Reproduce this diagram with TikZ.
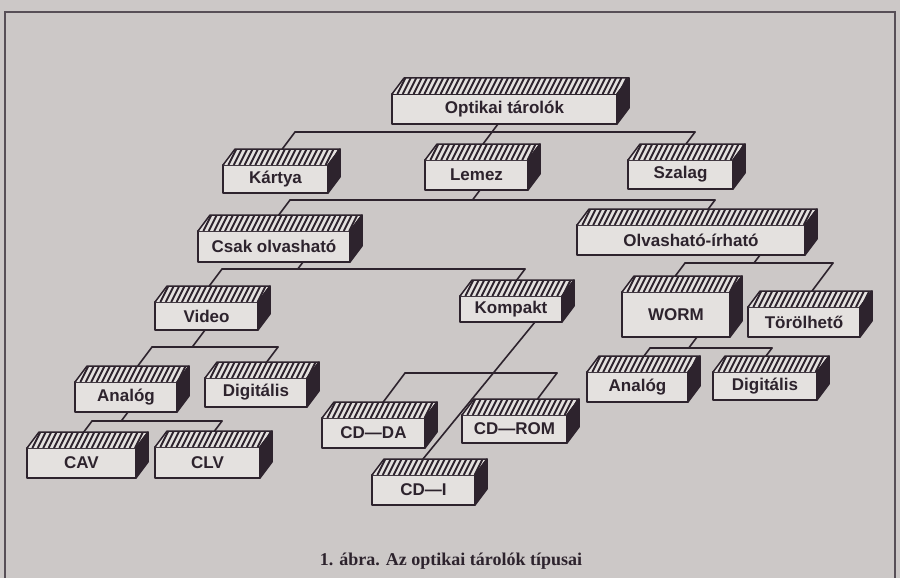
\documentclass[tikz,border=0pt]{standalone}
\usepackage{fontspec}
\usepackage{xcolor}
\usepackage{tikz}
\usetikzlibrary{calc}
\newfontfamily\dobozbetu{Liberation Sans}
\newfontfamily\cimbetu{Liberation Serif}

\definecolor{papir}{RGB}{204,200,199}
\definecolor{lap}{RGB}{228,225,223}
\definecolor{tinta}{RGB}{45,35,45}

% Mélység (ferde eltolás)
\def\mx{12} \def\my{-16}

\tikzset{
	el/.style={draw=tinta,line width=1.5pt,line join=round},
	elso/.style={el,fill=lap,inner sep=0pt,outer sep=0pt,text=tinta,
		font=\dobozbetu\bfseries\fontsize{17}{19}\selectfont},
	teto/.style={fill=lap},
	csik/.style={draw=tinta,line width=1.9pt},
	oldal/.style={el,fill=tinta},
	kapocs/.style={draw=tinta,line width=1.6pt,line cap=round},
	keret/.style={draw=tinta!80,line width=1.2pt},
	felirat/.style={text=tinta,font=\cimbetu\bfseries\fontsize{18}{20}\selectfont}
}

% Doboz: név, x1, y1, x2, y2, szöveg
\newcommand{\doboz}[6]{%
	\node[elso,minimum width={(#4-#2)*1pt},minimum height={(#5-#3)*1pt}]
	(#1) at ({(#2+#4)/2},{(#3+#5)/2}) {#6};
	\coordinate (#1-h) at ($(#1.north west)+(\mx,\my)$);
	\coordinate (#1-j) at ($(#1.north east)+(\mx,\my)$);
	% teteje
	\fill[teto] (#1.north west) -- (#1-h) -- (#1-j) -- (#1.north east) -- cycle;
	\begin{scope}
		\clip (#1.north west) -- (#1-h) -- (#1-j) -- (#1.north east) -- cycle;
		\foreach \k in {-3,...,45}
		\draw[csik] ({#2+5.4*\k},#3) -- ++(8,-16);
	\end{scope}
	\draw[el] (#1.north west) -- (#1-h) -- (#1-j) -- (#1.north east);
	% oldala
	\filldraw[oldal] (#1.north east) -- (#1-j) -- ($(#1-j)+(0,{#5-#3})$)
	-- (#1.south east) -- cycle;
}

% Lefutás a szülő aljáról: szülő, x, busz y
\newcommand{\lefut}[3]{%
	\draw[kapocs] let \p1=(#1.south) in
	({#2*1pt},\y1) -- ({#2*1pt-0.75*(\y1+#3pt)},{-#3pt});
}

% Busz: y, bal x, jobb x, gyerek/x lista
\newcommand{\busz}[4]{%
	\draw[kapocs] (#2,#1) -- (#3,#1);
	\foreach \g/\bx in {#4}
	\draw[kapocs] let \p1=(\g-h) in
	({\bx*1pt},{-#1pt}) -- ({\bx*1pt-0.75*(-#1pt-\y1)},\y1);
}

\begin{document}
\begin{tikzpicture}[x=1pt,y=-1pt]
	
	% Háttér
	\useasboundingbox (0,0) rectangle (900,578);
	\fill[papir] (0,0) rectangle (900,578);
	\draw[keret] (5,590) -- (5,12) -- (895,12) -- (895,590);
	
	% Dobozok
	\doboz{opt}{392}{94}{617}{124}{Optikai tárolók}
	\doboz{kar}{223}{165}{328}{193}{Kártya}
	\doboz{lem}{425}{160}{528}{190}{Lemez}
	\doboz{sza}{628}{160}{733}{189}{Szalag}
	\doboz{csa}{198}{231}{350}{262}{Csak olvasható}
	\doboz{olv}{577}{225}{805}{255}{Olvasható-írható}
	\doboz{vid}{155}{302}{258}{330}{Video}
	\doboz{kom}{460}{296}{562}{322}{Kompakt}
	\doboz{wor}{622}{292}{730}{337}{WORM}
	\doboz{tor}{748}{307}{860}{337}{Törölhető}
	\doboz{ana}{75}{382}{177}{412}{Analóg}
	\doboz{dig}{205}{378}{307}{407}{Digitális}
	\doboz{cav}{27}{448}{136}{478}{CAV}
	\doboz{clv}{155}{447}{260}{478}{CLV}
	\doboz{cdda}{322}{418}{425}{448}{CD—DA}
	\doboz{cdrom}{462}{415}{567}{443}{CD—ROM}
	\doboz{cdi}{372}{475}{475}{505}{CD—I}
	\doboz{wana}{587}{372}{688}{402}{Analóg}
	\doboz{wdig}{713}{372}{817}{400}{Digitális}
	
	% Kapcsolatok
	\lefut{opt}{498}{132}
	\busz{132}{295}{695}{kar/295,lem/492,sza/695}
	\lefut{lem}{480}{200}
	\busz{200}{290}{715}{csa/290,olv/715}
	\lefut{csa}{303}{269}
	\busz{269}{222}{525}{vid/222,kom/525}
	\lefut{olv}{760}{263}
	\busz{263}{685}{833}{wor/685,tor/833}
	\lefut{vid}{205}{347}
	\busz{347}{152}{278}{ana/152,dig/278}
	\lefut{ana}{128}{421}
	\busz{421}{92}{222}{cav/92,clv/222}
	\busz{373}{405}{557}{cdda/405,cdrom/557}
	\draw[kapocs] ($(kom.south west)+(75,0)$) -- ($(cdi-h)+(39,0)$);
	\lefut{wor}{697}{348}
	\busz{348}{650}{772}{wana/650,wdig/772}
	
	% Ábraaláírás
	\node[felirat] (cim) at (451,561) {1. ábra. Az optikai tárolók típusai};
	
\end{tikzpicture}
\end{document}
